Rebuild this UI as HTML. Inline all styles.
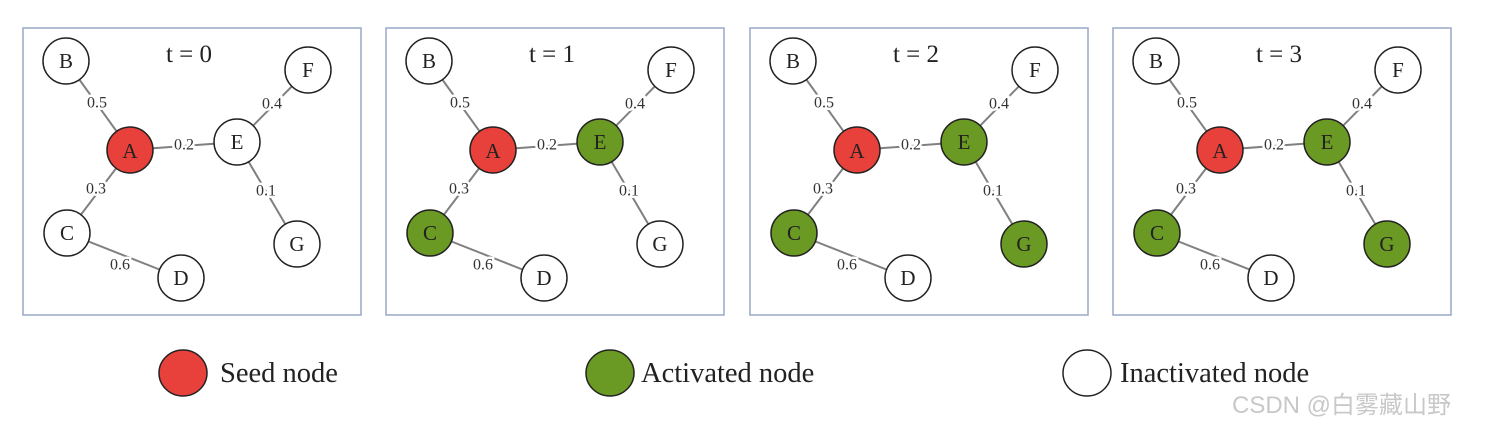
<!DOCTYPE html>
<html><head><meta charset="utf-8"><style>
html,body{margin:0;padding:0;background:#fff;}
svg{display:block;}
text{font-family:"Liberation Serif",serif;fill:#222;}
.lbl{font-size:16px;text-anchor:middle;dominant-baseline:central;paint-order:stroke;stroke:#fff;stroke-width:5px;fill:#333;}
.nl{font-size:21px;text-anchor:middle;dominant-baseline:central;}
.e{stroke:#808080;stroke-width:2;}
.n{stroke:#222;stroke-width:1.5;}
</style></head><body>
<svg width="1498" height="429" viewBox="0 0 1498 429" xmlns="http://www.w3.org/2000/svg">
<rect width="1498" height="429" fill="#fff"/>

<g transform="translate(0,0)">
<rect x="23" y="28" width="338" height="287" fill="#fff" stroke="#98a8c8" stroke-width="1.5"/>
<line class="e" x1="66" y1="61" x2="130" y2="150"/><line class="e" x1="130" y1="150" x2="237" y2="142"/><line class="e" x1="237" y1="142" x2="308" y2="70"/><line class="e" x1="237" y1="142" x2="297" y2="244"/><line class="e" x1="130" y1="150" x2="67" y2="233"/><line class="e" x1="67" y1="233" x2="181" y2="278"/>
<text class="lbl" x="97" y="103">0.5</text><text class="lbl" x="272" y="104">0.4</text><text class="lbl" x="184" y="145">0.2</text><text class="lbl" x="96" y="189">0.3</text><text class="lbl" x="266" y="191">0.1</text><text class="lbl" x="120" y="265">0.6</text>
<text x="189" y="62" font-size="25" text-anchor="middle">t = 0</text>
<circle class="n" cx="66" cy="61" r="23" fill="#fff"/><text class="nl" x="66" y="61">B</text>
<circle class="n" cx="308" cy="70" r="23" fill="#fff"/><text class="nl" x="308" y="70">F</text>
<circle class="n" cx="130" cy="150" r="23" fill="#e8403a"/><text class="nl" x="130" y="151">A</text>
<circle class="n" cx="237" cy="142" r="23" fill="#fff"/><text class="nl" x="237" y="142">E</text>
<circle class="n" cx="67" cy="233" r="23" fill="#fff"/><text class="nl" x="67" y="233">C</text>
<circle class="n" cx="297" cy="244" r="23" fill="#fff"/><text class="nl" x="297" y="244">G</text>
<circle class="n" cx="181" cy="278" r="23" fill="#fff"/><text class="nl" x="181" y="278">D</text>
</g>

<g transform="translate(363,0)">
<rect x="23" y="28" width="338" height="287" fill="#fff" stroke="#98a8c8" stroke-width="1.5"/>
<line class="e" x1="66" y1="61" x2="130" y2="150"/><line class="e" x1="130" y1="150" x2="237" y2="142"/><line class="e" x1="237" y1="142" x2="308" y2="70"/><line class="e" x1="237" y1="142" x2="297" y2="244"/><line class="e" x1="130" y1="150" x2="67" y2="233"/><line class="e" x1="67" y1="233" x2="181" y2="278"/>
<text class="lbl" x="97" y="103">0.5</text><text class="lbl" x="272" y="104">0.4</text><text class="lbl" x="184" y="145">0.2</text><text class="lbl" x="96" y="189">0.3</text><text class="lbl" x="266" y="191">0.1</text><text class="lbl" x="120" y="265">0.6</text>
<text x="189" y="62" font-size="25" text-anchor="middle">t = 1</text>
<circle class="n" cx="66" cy="61" r="23" fill="#fff"/><text class="nl" x="66" y="61">B</text>
<circle class="n" cx="308" cy="70" r="23" fill="#fff"/><text class="nl" x="308" y="70">F</text>
<circle class="n" cx="130" cy="150" r="23" fill="#e8403a"/><text class="nl" x="130" y="151">A</text>
<circle class="n" cx="237" cy="142" r="23" fill="#6a9a23"/><text class="nl" x="237" y="142">E</text>
<circle class="n" cx="67" cy="233" r="23" fill="#6a9a23"/><text class="nl" x="67" y="233">C</text>
<circle class="n" cx="297" cy="244" r="23" fill="#fff"/><text class="nl" x="297" y="244">G</text>
<circle class="n" cx="181" cy="278" r="23" fill="#fff"/><text class="nl" x="181" y="278">D</text>
</g>

<g transform="translate(727,0)">
<rect x="23" y="28" width="338" height="287" fill="#fff" stroke="#98a8c8" stroke-width="1.5"/>
<line class="e" x1="66" y1="61" x2="130" y2="150"/><line class="e" x1="130" y1="150" x2="237" y2="142"/><line class="e" x1="237" y1="142" x2="308" y2="70"/><line class="e" x1="237" y1="142" x2="297" y2="244"/><line class="e" x1="130" y1="150" x2="67" y2="233"/><line class="e" x1="67" y1="233" x2="181" y2="278"/>
<text class="lbl" x="97" y="103">0.5</text><text class="lbl" x="272" y="104">0.4</text><text class="lbl" x="184" y="145">0.2</text><text class="lbl" x="96" y="189">0.3</text><text class="lbl" x="266" y="191">0.1</text><text class="lbl" x="120" y="265">0.6</text>
<text x="189" y="62" font-size="25" text-anchor="middle">t = 2</text>
<circle class="n" cx="66" cy="61" r="23" fill="#fff"/><text class="nl" x="66" y="61">B</text>
<circle class="n" cx="308" cy="70" r="23" fill="#fff"/><text class="nl" x="308" y="70">F</text>
<circle class="n" cx="130" cy="150" r="23" fill="#e8403a"/><text class="nl" x="130" y="151">A</text>
<circle class="n" cx="237" cy="142" r="23" fill="#6a9a23"/><text class="nl" x="237" y="142">E</text>
<circle class="n" cx="67" cy="233" r="23" fill="#6a9a23"/><text class="nl" x="67" y="233">C</text>
<circle class="n" cx="297" cy="244" r="23" fill="#6a9a23"/><text class="nl" x="297" y="244">G</text>
<circle class="n" cx="181" cy="278" r="23" fill="#fff"/><text class="nl" x="181" y="278">D</text>
</g>

<g transform="translate(1090,0)">
<rect x="23" y="28" width="338" height="287" fill="#fff" stroke="#98a8c8" stroke-width="1.5"/>
<line class="e" x1="66" y1="61" x2="130" y2="150"/><line class="e" x1="130" y1="150" x2="237" y2="142"/><line class="e" x1="237" y1="142" x2="308" y2="70"/><line class="e" x1="237" y1="142" x2="297" y2="244"/><line class="e" x1="130" y1="150" x2="67" y2="233"/><line class="e" x1="67" y1="233" x2="181" y2="278"/>
<text class="lbl" x="97" y="103">0.5</text><text class="lbl" x="272" y="104">0.4</text><text class="lbl" x="184" y="145">0.2</text><text class="lbl" x="96" y="189">0.3</text><text class="lbl" x="266" y="191">0.1</text><text class="lbl" x="120" y="265">0.6</text>
<text x="189" y="62" font-size="25" text-anchor="middle">t = 3</text>
<circle class="n" cx="66" cy="61" r="23" fill="#fff"/><text class="nl" x="66" y="61">B</text>
<circle class="n" cx="308" cy="70" r="23" fill="#fff"/><text class="nl" x="308" y="70">F</text>
<circle class="n" cx="130" cy="150" r="23" fill="#e8403a"/><text class="nl" x="130" y="151">A</text>
<circle class="n" cx="237" cy="142" r="23" fill="#6a9a23"/><text class="nl" x="237" y="142">E</text>
<circle class="n" cx="67" cy="233" r="23" fill="#6a9a23"/><text class="nl" x="67" y="233">C</text>
<circle class="n" cx="297" cy="244" r="23" fill="#6a9a23"/><text class="nl" x="297" y="244">G</text>
<circle class="n" cx="181" cy="278" r="23" fill="#fff"/><text class="nl" x="181" y="278">D</text>
</g>

<ellipse class="n" cx="183" cy="373" rx="24" ry="23" fill="#e8403a"/>
<text x="220" y="382" font-size="28.5">Seed node</text>
<ellipse class="n" cx="610" cy="373" rx="24" ry="23" fill="#6a9a23"/>
<text x="641" y="382" font-size="28.5">Activated node</text>
<ellipse class="n" cx="1087" cy="373" rx="24" ry="23" fill="#fff"/>
<text x="1120" y="382" font-size="28.5">Inactivated node</text>
<text x="1232" y="413" font-size="24" style="font-family:'Liberation Sans','Noto Sans CJK SC',sans-serif;fill:#c8c8c8;">CSDN @白雾藏山野</text>
</svg>
</body></html>
